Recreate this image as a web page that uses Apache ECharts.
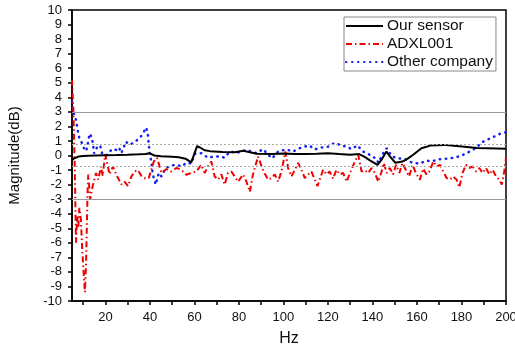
<!DOCTYPE html>
<html>
<head>
<meta charset="utf-8">
<script src="https://cdn.jsdelivr.net/npm/echarts@6/dist/echarts.min.js"></script>
<style>
  html, body { margin: 0; padding: 0; background: #fff; }
  #chart { width: 515px; height: 349px; }
</style>
</head>
<body>
<div id="chart"></div>
<script>
// Frequency (Hz) / magnitude (dB) pairs
const ourSensorHz = [5, 6, 8, 10, 15, 20, 25, 30, 35, 38, 40, 42, 45, 50, 53, 56, 58.6, 61.2, 62.5, 64.6, 67, 72.7, 78, 82, 85, 88, 95, 100, 105, 110, 115, 120, 125, 130, 134, 136.5, 139, 142.3, 144, 146.3, 148, 150.3, 153.5, 156, 158.3, 162, 166, 172, 179, 187, 200];
const ourSensorDb = [-0.3, -0.2, -0.07, -0.03, 0, 0.02, 0.03, 0.05, 0.08, 0.1, 0.15, 0.0, -0.05, -0.08, -0.12, -0.22, -0.47, 0.64, 0.55, 0.36, 0.3, 0.24, 0.22, 0.32, 0.22, 0.12, 0.1, 0.14, 0.1, 0.1, 0.12, 0.16, 0.1, 0.05, 0.1, -0.1, -0.35, -0.65, -0.3, 0.27, -0.1, -0.5, -0.42, -0.2, 0.05, 0.5, 0.68, 0.73, 0.64, 0.52, 0.46];

const adxlHz = [5, 5.6, 6.2, 6.8, 7.3, 7.8, 8.3, 9.0, 9.6, 10.2, 10.8, 11.3, 12.0, 12.3, 13.2, 14.3, 15.8, 16.8, 18.0, 18.8, 19.9, 21.9, 23.4, 24.9, 27.2, 28.6, 30.2, 31.7, 33.1, 34.6, 36.2, 38.1, 39.5, 41.8, 43.2, 45.2, 47.4, 49.6, 51.9, 54.1, 56.4, 58.6, 60.9, 63.1, 64.6, 66.1, 67.6, 69.1, 70.6, 72.1, 73.6, 75.1, 76.6, 78.1, 79.6, 81.9, 83.4, 84.9, 86.3, 88.6, 90.8, 93.1, 94.6, 96.1, 97.6, 99.1, 100.9, 102.1, 103.6, 105.1, 106.6, 108.1, 109.6, 111.1, 112.6, 114.1, 115.3, 116.8, 117.8, 119.3, 120.8, 122.3, 123.8, 125.3, 126.8, 128.4, 129.9, 132.1, 133.6, 135.1, 136.6, 138.1, 139.6, 141.1, 142.6, 144.1, 145.1, 146.4, 147.8, 149.3, 150.6, 152.1, 153.5, 155.0, 156.5, 158.0, 159.5, 161.3, 162.8, 164.3, 165.5, 167.4, 168.9, 170.4, 171.8, 173.3, 174.8, 176.3, 177.8, 179, 180.5, 182, 183.5, 185, 186.5, 188, 189.5, 191, 192.5, 194, 195.5, 197, 198.1, 199.2, 200];
const adxlDb = [5.2, 3.2, -0.5, -6.0, -4.2, -5.0, -3.6, -4.4, -6.5, -8.0, -9.4, -7.5, -2.5, -1.3, -3.0, -2.1, -1.2, -1.66, -0.75, -1.4, 0.08, -1.3, -0.75, -1.3, -2.0, -1.8, -2.1, -1.44, -1.1, -1.0, -1.4, -1.6, -1.55, -0.4, -0.15, -1.2, -0.93, -1.1, -0.86, -0.98, -1.32, -1.2, -1.1, -0.64, -1.2, -0.75, -0.41, -1.44, -1.66, -1.3, -2.0, -1.2, -1.1, -1.44, -1.8, -1.3, -1.8, -2.5, -1.3, -0.07, -1.0, -1.66, -1.55, -1.3, -1.8, -1.1, 0.27, -0.86, -1.44, -0.98, -0.52, -0.98, -1.55, -1.3, -1.1, -1.66, -2.1, -1.44, -0.98, -1.3, -1.1, -1.6, -0.98, -1.3, -1.2, -1.8, -1.2, -0.41, 0.05, -1.1, -1.0, -1.2, -0.86, -1.2, -1.8, -1.1, -0.52, -1.2, -0.86, -1.3, -0.64, -1.2, -0.52, -1.0, -1.44, -0.64, -1.2, -1.66, -0.9, -1.3, -1.1, -0.41, -0.75, -0.64, -1.1, -1.55, -1.66, -1.44, -1.66, -2.2, -1.2, -0.64, -0.86, -0.75, -1.1, -0.86, -1.2, -0.86, -1.3, -0.98, -1.44, -1.66, -2.0, -1.1, -0.18];

const otherHz = [5, 5.6, 6.9, 7.4, 8.2, 9.2, 10.5, 11.4, 12.2, 12.9, 13.7, 14.4, 14.9, 16.6, 17.7, 18.6, 20.4, 23.1, 24.9, 26.1, 27.2, 29.2, 30.6, 33.1, 36.2, 38.4, 39.1, 39.9, 40.6, 41.3, 42.6, 44, 45.2, 47, 49, 51.9, 54.1, 56.5, 58.6, 60.1, 61.2, 63.1, 66.1, 69.1, 71.4, 73.6, 75.9, 78.9, 80.4, 83.4, 87.9, 90.8, 93.5, 94.9, 97.6, 101.3, 104.3, 107.3, 111.5, 114.1, 117.1, 120, 123.1, 126.1, 128.5, 130.6, 133.2, 135.8, 138.1, 139.6, 141.8, 142.6, 144.6, 146.4, 148.7, 150.8, 154.6, 158.2, 161.3, 164.3, 166.6, 170.4, 174.8, 179.3, 182.3, 186, 189.8, 194, 198.1, 200];
const otherDb = [3.7, 3.0, 2.4, 1.85, 1.25, 0.95, 0.45, 0.3, 0.9, 1.5, 1.3, 0.85, 0.15, 0.66, 0.66, 0.1, 0.0, 0.45, 0.38, 0.55, 0.16, 0.95, 0.75, 0.89, 1.35, 1.92, 1.4, 0.16, -0.4, -1.3, -2.0, -1.2, -1.44, -0.9, -0.7, -0.64, -0.75, -0.5, -0.55, 0.1, 0.16, 0.16, -0.15, -0.07, -0.07, -0.15, 0.27, 0.2, 0.23, 0.38, 0.16, 0.44, 0.0, -0.2, 0.27, 0.42, 0.27, 0.5, 0.7, 0.42, 0.55, 0.6, 0.87, 0.68, 0.6, 0.44, 0.7, 0.27, 0.12, -0.07, -0.2, -0.5, 0.1, 0.5, -0.05, -0.18, -0.25, -0.52, -0.55, -0.35, -0.4, -0.25, -0.2, -0.05, 0.16, 0.47, 0.96, 1.25, 1.55, 1.6];

// Axis ticks and the horizontal guide lines
const xLabelTicks = [20, 40, 60, 80, 100, 120, 140, 160, 180, 200];
const xAllTicks = [10, 20, 30, 40, 50, 60, 70, 80, 90, 100, 110, 120, 130, 140, 150, 160, 170, 180, 190, 200];
const solidGuides = [3, -3];
const dottedGuides = [0.75, -0.75];

const FONT = 'Liberation Sans';

function zip(xs, ys) {
  return xs.map((x, i) => [x, ys[i]]);
}

const chart = echarts.init(document.getElementById('chart'));

const option = {
  animation: false,
  grid: {
    left: 72, right: 9, top: 10, bottom: 48,
    outerBoundsMode: 'none',
    show: true, borderColor: '#000', borderWidth: 1.5
  },
  legend: {
    orient: 'vertical',
    left: 344, top: 17,
    data: ['Our sensor', 'ADXL001', 'Other company'],
    itemWidth: 37, itemHeight: 14, itemGap: 2,
    padding: [1, 3, 1, 1],
    borderColor: '#888', borderWidth: 1,
    itemStyle: { opacity: 0 },
    textStyle: { fontFamily: FONT, fontSize: 15.5, color: '#111', padding: [0, 0, 0, -1] }
  },
  xAxis: {
    type: 'value', min: 5, max: 200,
    name: 'Hz', nameLocation: 'middle', nameGap: 30,
    nameTextStyle: { fontFamily: FONT, fontSize: 16, color: '#111' },
    axisLine: { show: true, onZero: false, lineStyle: { color: '#000', width: 1.5 } },
    axisTick: { show: true, length: 4, customValues: xAllTicks, lineStyle: { color: '#000', width: 1.5 } },
    axisLabel: { customValues: xLabelTicks, margin: 10, fontFamily: FONT, fontSize: 13, color: '#111' },
    splitLine: { show: false }
  },
  yAxis: {
    type: 'value', min: -10, max: 10, interval: 1,
    name: 'Magnitude(dB)', nameLocation: 'middle', nameGap: 50, nameRotate: 90,
    nameTextStyle: { fontFamily: FONT, fontSize: 15, color: '#111' },
    axisLine: { show: true, onZero: false, lineStyle: { color: '#000', width: 1.5 } },
    axisTick: { show: true, length: 4, lineStyle: { color: '#000', width: 1.5 } },
    axisLabel: { margin: 10, fontFamily: FONT, fontSize: 13, color: '#111' },
    splitLine: { show: false }
  },
  series: [
    {
      name: 'guides', type: 'line', data: [], silent: true,
      markLine: {
        silent: true, symbol: 'none', label: { show: false },
        data: solidGuides.map(v => ({ yAxis: v, lineStyle: { color: '#999', width: 1, type: 'solid' } }))
          .concat(dottedGuides.map(v => ({ yAxis: v, lineStyle: { color: '#aaa', width: 1, type: [2, 2] } })))
      }
    },
    {
      name: 'Other company', type: 'line', data: zip(otherHz, otherDb),
      showSymbol: false, symbol: 'none',
      lineStyle: { color: '#1520f0', width: 2.5, type: [0.5, 5.5], cap: 'round' },
      itemStyle: { color: '#1520f0' }
    },
    {
      name: 'ADXL001', type: 'line', data: zip(adxlHz, adxlDb),
      showSymbol: false, symbol: 'none',
      lineStyle: { color: '#f00000', width: 2, type: [6, 3, 1.5, 3] },
      itemStyle: { color: '#f00000' }
    },
    {
      name: 'Our sensor', type: 'line', data: zip(ourSensorHz, ourSensorDb),
      showSymbol: false, symbol: 'none',
      lineStyle: { color: '#000', width: 2 },
      itemStyle: { color: '#000' }
    }
  ]
};

chart.setOption(option);
</script>
</body>
</html>
